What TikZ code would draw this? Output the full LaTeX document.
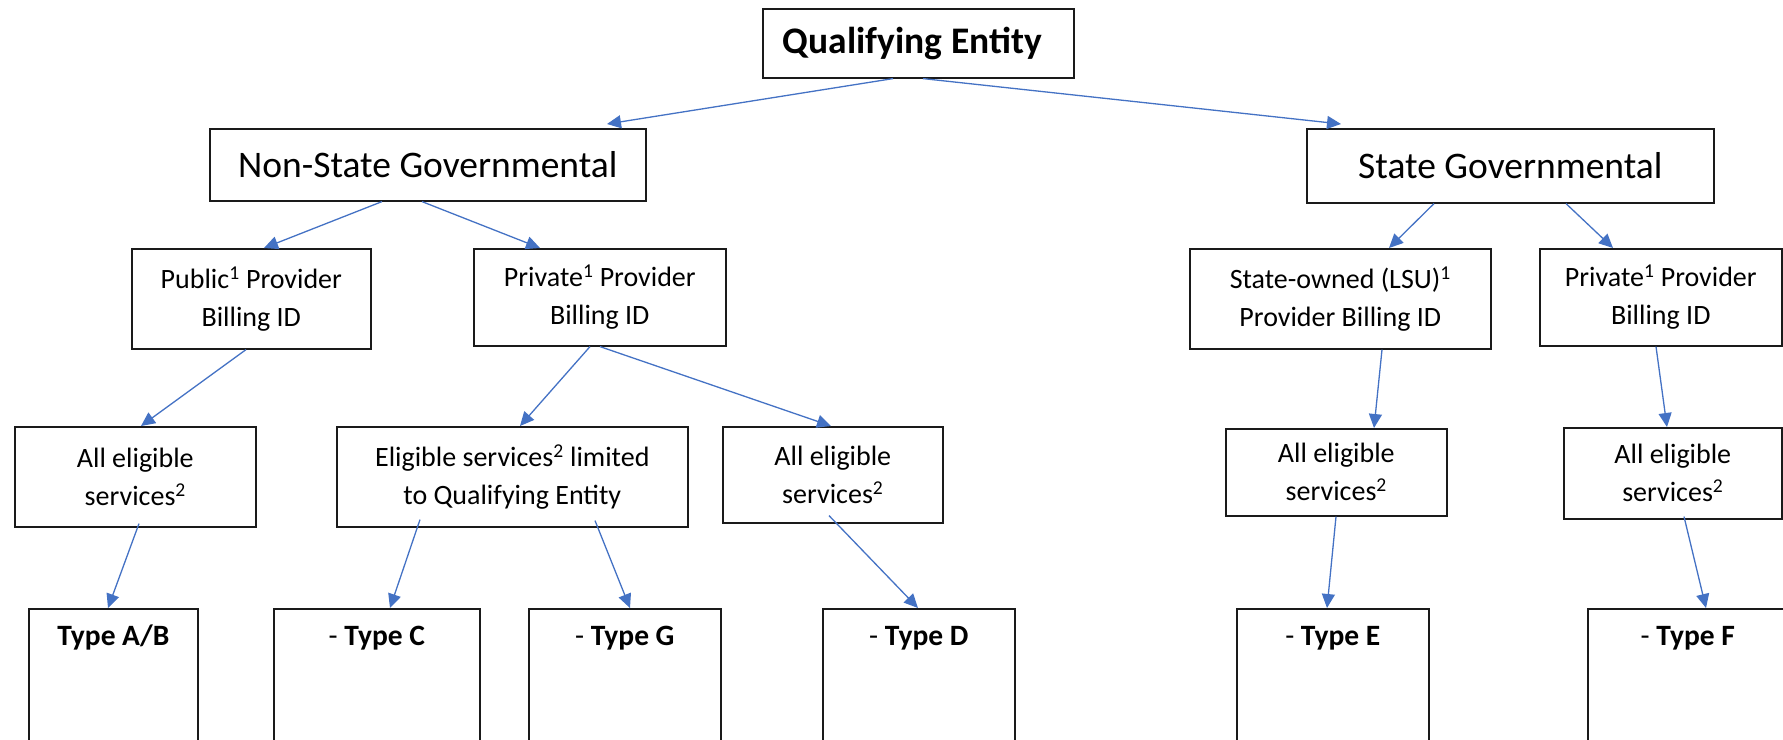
\documentclass[tikz,border=0pt]{standalone}
\usepackage{fontspec}
\setmainfont{Carlito}
\usetikzlibrary{calc,arrows.meta}
\definecolor{arrowblue}{HTML}{4472C4}
\definecolor{boxline}{HTML}{1A1A1A}
\begin{document}
\begin{tikzpicture}[x=1pt,y=-1pt,
  box/.style={draw=boxline, line width=1.6pt, rectangle, anchor=north west, inner sep=0pt, align=center},
  bigtext/.style={font=\fontsize{37.5}{44}\selectfont},
  qetext/.style={font=\fontsize{37.5}{44}\selectfont\bfseries},
  midtext/.style={font=\fontsize{28}{38}\selectfont},
  typebox/.style={box, minimum height=150pt},
  typelabel/.style={anchor=base, yshift=-37pt, font=\fontsize{29.5}{34}\selectfont, inner sep=0pt},
  conn/.style={draw=arrowblue, line width=1.3pt, -{Triangle[length=14pt,width=13pt]}},
  ]
\useasboundingbox (0,0) rectangle (1783,739);

% level 0
\node[box, qetext, minimum width=311pt, minimum height=69pt] (qe) at (762,8) {Qualifying Entity\hspace*{12pt}};
% level 1
\node[box, bigtext, minimum width=436pt, minimum height=72pt] (ns) at (209,128) {Non-State Governmental};
\node[box, bigtext, minimum width=407pt, minimum height=74pt] (sg) at (1306,128) {State Governmental};
% level 2
\node[box, midtext, minimum width=239pt, minimum height=100pt] (pub) at (131,248) {Public\textsuperscript{1} Provider\\Billing ID};
\node[box, midtext, minimum width=252pt, minimum height=97pt] (prl) at (473,248) {Private\textsuperscript{1} Provider\\Billing ID};
\node[box, midtext, minimum width=301pt, minimum height=100pt] (so) at (1189,248) {State-owned (LSU)\textsuperscript{1}\\Provider Billing ID};
\node[box, midtext, minimum width=242pt, minimum height=97pt] (prr) at (1539,248) {Private\textsuperscript{1} Provider\\Billing ID};
% level 3
\node[box, midtext, minimum width=241pt, minimum height=100pt] (ae1) at (14,426) {All eligible\\services\textsuperscript{2}};
\node[box, midtext, minimum width=351pt, minimum height=100pt] (el) at (336,426) {Eligible services\textsuperscript{2} limited\\to Qualifying Entity};
\node[box, midtext, minimum width=220pt, minimum height=96pt] (aed) at (722,426) {All eligible\\services\textsuperscript{2}};
\node[box, midtext, minimum width=221pt, minimum height=87pt] (aee) at (1225,428) {All eligible\\services\textsuperscript{2}};
\node[box, midtext, minimum width=218pt, minimum height=91pt] (aef) at (1563,427) {All eligible\\services\textsuperscript{2}};
% level 4
\node[typebox, minimum width=169pt, label={[typelabel, name=ltab]north:\textbf{Type A/B}}] (tab) at (28,608) {};
\node[typebox, minimum width=206pt, label={[typelabel, name=ltc]north:- \textbf{Type C}}] (tc) at (273,608) {};
\node[typebox, minimum width=192pt, label={[typelabel, name=ltg]north:- \textbf{Type G}}] (tg) at (528,608) {};
\node[typebox, minimum width=192pt, label={[typelabel, name=ltd]north:- \textbf{Type D}}] (td) at (822,608) {};
\node[typebox, minimum width=192pt, label={[typelabel, name=lte]north:- \textbf{Type E}}] (te) at (1236,608) {};
\node[typebox, minimum width=200pt, label={[typelabel, name=ltf]north:- \textbf{Type F}}] (tf) at (1587,608) {};

% connectors
\draw[conn] ($(qe.south west)+(131,0)$) -- ($(ns.north west)+(398,-4)$);
\draw[conn] ($(qe.south west)+(161,0)$) -- ($(sg.north west)+(35,-4)$);
\draw[conn] ($(ns.south west)+(173,0)$) -- ($(pub.north west)+(133,0)$);
\draw[conn] ($(ns.south west)+(213,0)$) -- ($(prl.north west)+(67,0)$);
\draw[conn] ($(sg.south west)+(128,0)$) -- ($(so.north west)+(200,0)$);
\draw[conn] ($(sg.south west)+(260,0)$) -- ($(prr.north west)+(74,0)$);
\draw[conn] ($(pub.south west)+(115,0)$) -- ($(ae1.north west)+(127,0)$);
\draw[conn] ($(prl.south west)+(117,0)$) -- ($(el.north west)+(184,0)$);
\draw[conn] ($(prl.south west)+(127,0)$) -- ($(aed.north west)+(109,0)$);
\draw[conn] ($(so.south west)+(193,0)$) -- ($(aee.north west)+(149,0)$);
\draw[conn] ($(prr.south west)+(117,0)$) -- ($(aef.north west)+(104,0)$);
\draw[conn] ($(ae1.south west)+(125,-4)$) -- ($(tab.north west)+(80,0)$);
\draw[conn] ($(el.south west)+(84,-8)$) -- ($(tc.north west)+(117,0)$);
\draw[conn] ($(el.south west)+(259,-7)$) -- ($(tg.north west)+(102,0)$);
\draw[conn] ($(aed.south west)+(107,-8)$) -- ($(td.north west)+(96,0)$);
\draw[conn] ($(aee.south west)+(111,0)$) -- ($(te.north west)+(91,0)$);
\draw[conn] ($(aef.south west)+(121,-3)$) -- ($(tf.north west)+(119,0)$);
\end{tikzpicture}
\end{document}
